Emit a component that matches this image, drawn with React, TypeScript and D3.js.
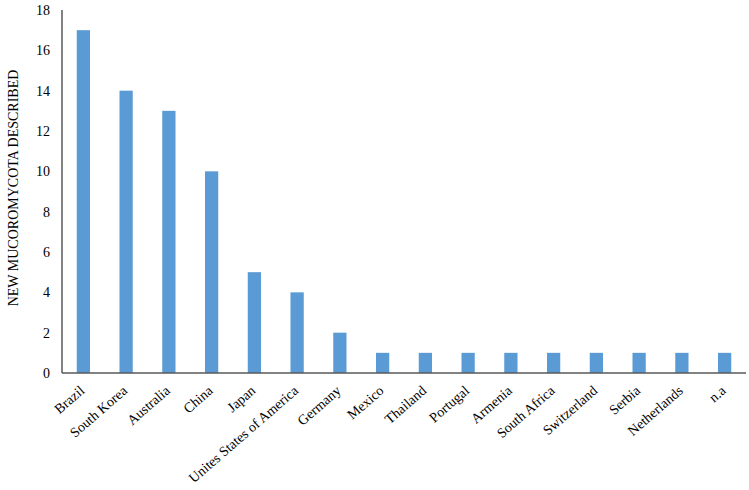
import React, { useEffect, useRef } from 'react';
import { select, scaleBand, scaleLinear } from 'd3';

const countries = [
  'Brazil', 'South Korea', 'Australia', 'China', 'Japan', 'Unites States of America',
  'Germany', 'Mexico', 'Thailand', 'Portugal', 'Armenia', 'South Africa',
  'Switzerland', 'Serbia', 'Netherlands', 'n.a',
];
const described = [17, 14, 13, 10, 5, 4, 2, 1, 1, 1, 1, 1, 1, 1, 1, 1];
const yTicks = [0, 2, 4, 6, 8, 10, 12, 14, 16, 18];
const yTitle = 'NEW MUCOROMYCOTA DESCRIBED';

export default function App() {
  const svgRef = useRef<SVGSVGElement>(null);

  useEffect(() => {
    const width = 749;
    const height = 490;
    const left = 62, right = 746, top = 10, bottom = 373;
    const font = "'Liberation Serif', 'Times New Roman', Times, serif";

    const svg = select(svgRef.current)
      .attr('width', width)
      .attr('height', height)
      .style('position', 'absolute')
      .style('left', 0)
      .style('top', 0);
    svg.selectAll('*').remove();

    const x = scaleBand<string>().domain(countries).range([left, right]).padding(0);
    const y = scaleLinear().domain([0, 18]).range([bottom, top]);
    const barW = x.bandwidth() * 0.31;

    // bars
    svg.selectAll('.bar')
      .data(described)
      .join('rect')
      .attr('class', 'bar')
      .attr('x', (d, i) => x(countries[i])! + x.bandwidth() / 2 - barW / 2)
      .attr('y', d => y(d))
      .attr('width', barW)
      .attr('height', d => y(0) - y(d))
      .attr('fill', '#5B9BD5');

    // axis lines
    svg.append('line')
      .attr('x1', left).attr('x2', left)
      .attr('y1', y(18)).attr('y2', y(0))
      .attr('stroke', '#595959').attr('stroke-width', 1.5);
    svg.append('line')
      .attr('x1', left).attr('x2', right)
      .attr('y1', y(0)).attr('y2', y(0))
      .attr('stroke', '#595959').attr('stroke-width', 1.5);

    // y tick labels
    svg.selectAll('.ytick')
      .data(yTicks)
      .join('text')
      .attr('class', 'ytick')
      .attr('x', 50)
      .attr('y', d => y(d))
      .attr('dy', '0.35em')
      .attr('text-anchor', 'end')
      .attr('font-family', font)
      .attr('font-size', 14)
      .attr('fill', '#000')
      .text(d => d);

    // x labels, rotated
    svg.selectAll('.xlab')
      .data(countries)
      .join('text')
      .attr('class', 'xlab')
      .attr('text-anchor', 'end')
      .attr('font-family', font)
      .attr('font-size', 14)
      .attr('fill', '#000')
      .attr('transform', d => {
        const cx = x(d)! + x.bandwidth() / 2 + 2;
        return `translate(${cx},${bottom + 19}) rotate(-41)`;
      })
      .text(d => d);

    // y title
    svg.append('text')
      .attr('transform', `translate(18,188) rotate(-90)`)
      .attr('text-anchor', 'middle')
      .attr('font-family', font)
      .attr('font-size', 14)
      .attr('fill', '#000')
      .text(yTitle);
  }, []);

  return <svg ref={svgRef}></svg>;
}
